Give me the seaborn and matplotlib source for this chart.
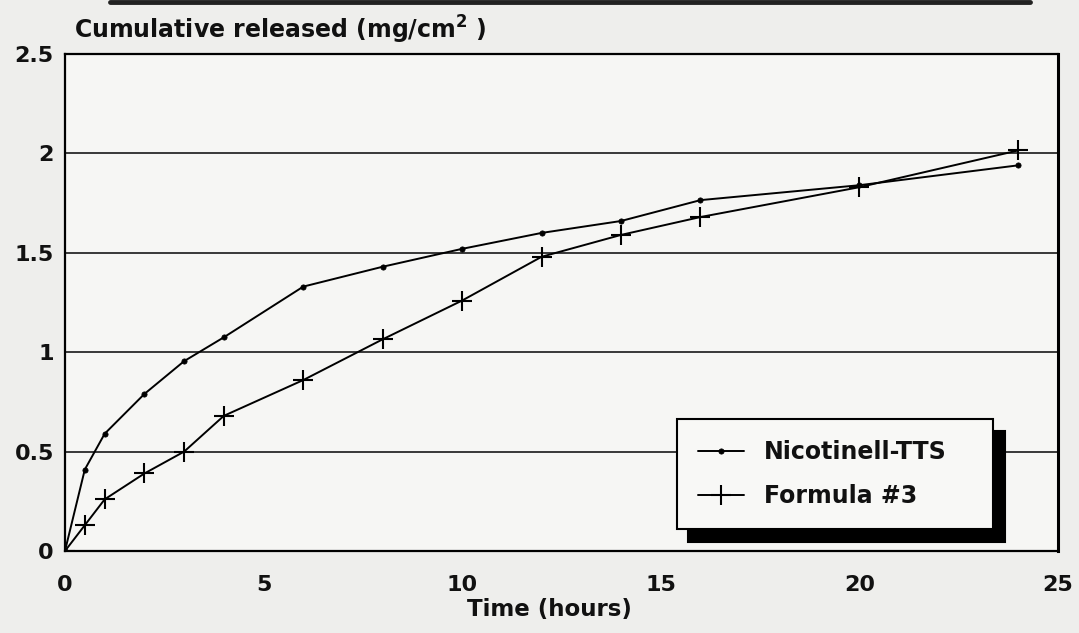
import matplotlib
matplotlib.use("Agg")
import matplotlib.pyplot as plt
from matplotlib.lines import Line2D
import pandas as pd
import seaborn as sns

# Release profiles (time in hours, cumulative release in mg/cm^2)
time_nicotinell = [0, 0.5, 1, 2, 3, 4, 6, 8, 10, 12, 14, 16, 20, 24]
released_nicotinell = [0, 0.41, 0.59, 0.79, 0.955, 1.075, 1.33, 1.43, 1.52, 1.60, 1.66, 1.765, 1.84, 1.94]

time_formula3 = [0, 0.5, 1, 2, 3, 4, 6, 8, 10, 12, 14, 16, 20, 24]
released_formula3 = [0, 0.13, 0.26, 0.39, 0.50, 0.68, 0.86, 1.065, 1.26, 1.48, 1.59, 1.68, 1.83, 2.015]

series_names = ["Nicotinell-TTS", "Formula #3"]
x_ticks = [0, 5, 10, 15, 20, 25]
y_ticks = [0, 0.5, 1, 1.5, 2, 2.5]
y_tick_labels = ["0", "0.5", "1", "1.5", "2", "2.5"]

nicotinell = pd.DataFrame({"time": time_nicotinell, "released": released_nicotinell})
formula3 = pd.DataFrame({"time": time_formula3, "released": released_formula3})

sns.set_theme(style="white")
plt.rcParams["font.family"] = ["DejaVu Sans"]
plt.rcParams["font.weight"] = "bold"
plt.rcParams["mathtext.fontset"] = "dejavusans"

paper = "#eeeeec"
ink = "#111111"
fig = plt.figure(figsize=(10.79, 6.33), dpi=100, facecolor=paper)
ax = fig.add_axes([0.0602, 0.1295, 0.9203, 0.7852])
ax.set_facecolor("#f6f6f4")

sns.lineplot(data=nicotinell, x="time", y="released", ax=ax, color="black",
             linewidth=1.4, marker="o", markersize=3.8, markeredgecolor="black",
             markerfacecolor="black", markeredgewidth=0.5, label=series_names[0],
             zorder=3)
sns.lineplot(data=formula3, x="time", y="released", ax=ax, color="black",
             linewidth=1.4, marker="+", markersize=15, markeredgecolor="black",
             markeredgewidth=1.5, label=series_names[1], zorder=3)

ax.set_xlim(0, 25)
ax.set_ylim(0, 2.5)
ax.set_xticks(x_ticks)
ax.set_yticks(y_ticks)
ax.set_yticklabels(y_tick_labels)

# horizontal rules only
for y in y_ticks[1:-1]:
    ax.axhline(y, color="#2a2a2a", linewidth=1.3, zorder=1)

for side in ["left", "bottom", "top"]:
    ax.spines[side].set_color("black")
    ax.spines[side].set_linewidth(1.6)
ax.spines["right"].set_color("black")
ax.spines["right"].set_linewidth(2.2)

ax.tick_params(axis="x", direction="in", length=10, width=1.4, color="black",
               pad=17, labelsize=16, labelcolor=ink)
ax.tick_params(axis="y", length=0, pad=8, labelsize=16, labelcolor=ink)
for lab in ax.get_xticklabels() + ax.get_yticklabels():
    lab.set_fontweight("bold")

ax.set_xlabel("Time (hours)", fontsize=16.5, fontweight="bold", color=ink)
ax.xaxis.set_label_coords(0.4875, -0.094)
ax.set_ylabel("")

fig.text(0.0685, 0.952, "Cumulative released (mg/cm$^{2}$ )", fontsize=17,
         fontweight="bold", va="center", ha="left", color=ink)

leg = ax.legend(loc="lower left", bbox_to_anchor=(0.616, 0.044, 0.319, 0.222),
                mode="expand", borderaxespad=0, fancybox=False, framealpha=1,
                edgecolor="black", facecolor="#f8f8f6", fontsize=17,
                handlelength=1.95, handletextpad=0.85, labelspacing=0.85,
                borderpad=0.9,
                shadow={"ox": 8.5, "oy": -9, "facecolor": "black",
                        "edgecolor": "black", "alpha": 1})
leg.get_frame().set_linewidth(1.5)
for t in leg.get_texts():
    t.set_fontweight("bold")
    t.set_color(ink)

# dark rule along the top edge of the page
fig.add_artist(Line2D([110 / 1079, 1030 / 1079], [1 - 1.5 / 633, 1 - 1.5 / 633],
                      transform=fig.transFigure, color="#222222", linewidth=3.5))

fig.savefig("out.png", dpi=100, facecolor=paper)
